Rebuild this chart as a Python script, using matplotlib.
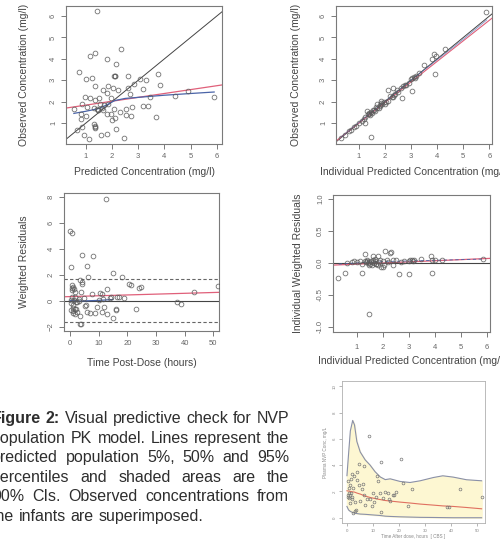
import matplotlib
matplotlib.use("Agg")
import matplotlib.pyplot as plt
import numpy as np

plt.rcParams['font.family'] = ['Liberation Sans', 'DejaVu Sans']

# ---------------- data ----------------
# Panel 1: population predicted vs observed
pred1 = [1.41, 1.36, 1.15, 2.33, 1.79, 0.75, 2.14, 1.01, 1.22, 2.08, 2.12, 2.10, 2.60, 3.06, 3.29, 3.76,
         2.85, 1.66, 1.85, 1.36, 2.04, 2.22, 2.60, 3.19, 3.83, 0.95, 1.16, 1.79, 1.97, 2.70, 3.44, 4.41,
         4.91, 5.89, 0.54, 0.87, 1.04, 1.34, 1.54, 1.30, 1.41, 1.47, 1.60, 1.85, 2.07, 2.54, 2.75, 3.19,
         3.39, 3.69, 2.29, 2.52, 2.74, 0.81, 0.82, 1.01, 1.82, 1.95, 2.01, 2.10, 1.32, 1.35, 1.36, 1.35,
         0.66, 0.87, 2.14, 0.94, 1.12, 1.59, 1.79, 2.47, 1.64, 1.51, 1.68, 1.45]
obs1 = [6.23, 4.25, 4.12, 4.45, 3.97, 3.39, 3.75, 3.06, 3.09, 3.19, 3.19, 3.19, 3.19, 3.06, 3.00, 3.31,
        2.81, 2.53, 2.75, 2.72, 2.66, 2.56, 2.63, 2.59, 2.77, 2.20, 2.19, 2.41, 2.19, 2.36, 2.23, 2.27,
        2.50, 2.23, 1.64, 1.88, 1.75, 2.06, 1.91, 1.72, 1.66, 1.59, 1.72, 1.91, 1.67, 1.67, 1.75, 1.81,
        1.81, 1.28, 1.50, 1.36, 1.31, 1.44, 1.19, 1.31, 1.41, 1.44, 1.16, 1.25, 0.94, 0.84, 0.81, 0.75,
        0.66, 0.81, 0.70, 0.44, 0.27, 0.44, 0.50, 0.31, 1.59, 2.19, 1.85, 1.62]
reg1_x = [0.24, 6.2]
reg1_y = [1.70, 2.78]
low1_x = [0.54, 1.0, 1.5, 1.8, 2.1, 2.5, 3.0, 4.0, 5.0, 5.9]
low1_y = [1.45, 1.55, 1.68, 1.85, 2.05, 2.15, 2.20, 2.30, 2.38, 2.45]

# Panel 2: individual predicted vs observed
ipred2 = [0.45, 0.60, 0.70, 0.80, 0.90, 1.00, 1.10, 1.20, 1.25, 1.30, 1.35, 1.40, 1.42, 1.45, 1.50, 1.55,
          1.60, 1.65, 1.70, 1.75, 1.80, 1.82, 1.85, 1.90, 1.95, 2.00, 2.05, 2.10, 2.20, 2.30, 2.35, 2.40,
          2.50, 2.60, 2.70, 2.80, 2.90, 3.00, 3.05, 3.10, 3.15, 3.20, 3.30, 3.50, 3.80, 3.86, 3.97, 4.30,
          5.86, 3.90, 3.04, 2.64, 2.12, 2.32, 1.48, 1.22, 1.85, 1.70, 2.45, 0.30, 1.38, 1.58, 2.25, 2.75]
obs2 = [0.45, 0.62, 0.68, 0.82, 0.88, 1.02, 1.10, 1.18, 1.30, 1.55, 1.40, 1.45, 1.38, 1.50, 1.47, 1.60,
        1.58, 1.75, 1.72, 1.68, 1.85, 1.78, 1.95, 1.88, 2.00, 1.90, 1.98, 2.05, 2.25, 2.20, 2.30, 2.38,
        2.45, 2.62, 2.72, 2.78, 2.85, 3.05, 3.10, 3.15, 3.12, 3.22, 3.35, 3.72, 4.00, 4.24, 4.12, 4.45,
        6.19, 3.29, 2.50, 2.18, 2.53, 2.65, 0.35, 1.00, 2.05, 1.90, 2.55, 0.30, 1.42, 1.62, 2.22, 2.78]
reg2_x = [0.12, 6.1]
reg2_y = [0.16, 5.90]
low2_x = [0.3, 1.0, 2.0, 3.0, 4.0, 5.0, 5.9]
low2_y = [0.33, 1.03, 2.02, 3.01, 3.96, 4.92, 5.82]

# Panel 3: time vs weighted residuals
time3 = [12.65, 0.0, 0.84, 4.2, 8.07, 0.36, 5.78, 15.06, 6.27, 18.3, 20.5, 21.2, 24.1, 24.8, 43.4, 51.6,
         37.3, 38.7, 23.1, 16.1, 15.1, 3.4, 3.86, 0.6, 1.2, 0.84, 1.8, 3.6, 4.1, 4.3, 4.0, 0.6, 1.8, 3.0,
         4.8, 7.8, 10.6, 11.1, 13.0, 14.2, 16.3, 17.1, 18.7, 0.24, 1.2, 2.2, 0.96, 1.9, 1.2, 1.7, 2.4,
         3.4, 5.2, 5.8, 7.0, 8.7, 9.3, 11.1, 12.0, 13.0, 15.9, 11.4, 10.0, 5.7, 0.5, 1.5, 2.6, 0.3, 1.0,
         2.0, 3.2, 0.7, 1.4, 14.0]
wres3 = [7.82, 5.41, 5.26, 3.54, 3.46, 2.64, 2.69, 2.13, 1.82, 1.82, 1.31, 1.23, 0.97, 1.05, 0.69, 1.15,
         -0.05, -0.23, -0.64, -0.64, -1.31, -1.77, -1.77, 1.23, 1.10, 0.85, 0.72, 1.62, 1.46, 1.28, 0.72,
         0.33, 0.28, 0.13, 0.21, 0.54, 0.59, 0.54, 0.90, 0.28, 0.28, 0.33, 0.21, -0.13, -0.30, -0.05,
         -0.56, -0.64, -0.90, -1.00, -0.82, -1.15, -0.38, -0.82, -0.95, -0.95, -0.44, -0.82, -0.44, -1.00,
         -0.69, 0.13, 0.08, -0.31, 0.05, 0.10, -0.10, -0.70, -0.75, -0.60, 0.0, 1.0, 0.95, 0.25]
ref3_upper = 1.67
ref3_lower = -1.62
reg3_x = [-2.1, 52.0]
reg3_y = [0.33, 0.67]
low3_x = [0.0, 3.0, 6.0, 10.0, 15.0]
low3_y = [0.05, 0.0, 0.02, 0.05, 0.12]

# Panel 4: individual predicted vs individual weighted residuals
ipred4 = [0.29, 0.54, 1.19, 1.47, 1.31, 1.60, 1.83, 2.08, 2.27, 2.31, 2.60, 3.01, 3.88, 3.46, 3.85, 4.29,
          5.86, 1.92, 1.99, 1.80, 1.47, 0.60, 0.80, 0.90, 1.00, 1.10, 1.20, 1.30, 1.35, 1.40, 1.45, 1.50,
          1.55, 1.60, 1.65, 1.70, 1.75, 1.85, 1.90, 2.00, 2.15, 2.20, 2.40, 2.50, 2.70, 2.80, 3.00, 3.05,
          3.10, 3.15, 3.20, 3.90, 4.00, 1.38, 1.42, 1.58, 1.62, 1.68, 1.72, 2.05, 2.40]
iwres4 = [-0.23, -0.16, -0.16, -0.80, 0.14, 0.11, 0.10, 0.19, 0.15, 0.17, -0.17, -0.18, -0.16, 0.06, 0.10,
          0.04, 0.06, -0.06, -0.07, -0.04, -0.04, 0.00, 0.02, 0.03, 0.02, 0.03, -0.02, 0.03, 0.01, 0.04,
          0.02, -0.01, 0.03, 0.02, 0.00, 0.03, -0.02, 0.02, 0.04, 0.03, 0.05, 0.01, 0.04, 0.05, 0.02, 0.03,
          0.03, 0.04, 0.05, 0.03, 0.04, 0.04, 0.04, 0.03, 0.00, -0.03, 0.05, 0.06, -0.02, -0.04, -0.03]
reg4_x = [0.08, 6.12]
reg4_y = [-0.035, 0.07]
low4_x = [0.3, 1.0, 2.0, 3.0, 4.0, 5.0, 5.9]
low4_y = [-0.02, 0.0, 0.02, 0.03, 0.04, 0.05, 0.06]

# VPC panel
vpc_time = [0.0, 0.6, 1.3, 2.2, 2.9, 3.8, 5.1, 7.0, 8.9, 10.8, 12.8, 14.7, 16.6, 20.4, 24.2, 28.1, 33.2,
            36.8, 40.8, 45.9, 51.7]
vpc_upper = [3.2, 4.8, 6.6, 7.4, 7.06, 5.8, 5.0, 4.4, 4.0, 3.5, 3.1, 2.9, 2.96, 2.76, 2.68, 2.81, 3.06,
             3.19, 3.09, 2.89, 2.81]
vpc_lower = [0.86, 0.60, 0.48, 0.40, 0.35, 0.32, 0.28, 0.26, 0.23, 0.20, 0.17, 0.12, 0.10, 0.07, 0.05,
             0.03, 0.02, 0.01, 0.0, 0.0, 0.0]
vpc_median = [2.05, 2.03, 2.0, 1.97, 1.95, 1.88, 1.80, 1.65, 1.54, 1.46, 1.38, 1.31, 1.27, 1.19, 1.12,
              1.04, 0.96, 0.90, 0.86, 0.78, 0.68]
obs_time = [8.3, 13.0, 20.8, 4.8, 6.6, 1.9, 2.6, 3.8, 43.4, 51.7, 24.9, 21.7, 11.5, 12.1, 14.7, 15.9, 17.6,
            38.3, 39.3, 23.6, 13.1, 2.3, 2.9, 3.6, 0.6, 1.0, 1.5, 0.3, 0.8, 1.9, 0.5, 0.6, 1.3, 2.2, 4.5,
            5.7, 6.4, 7.6, 8.9, 10.2, 9.5, 11.0, 12.5, 14.0, 16.5, 18.0, 5.0, 3.0, 1.2, 0.4, 2.0, 7.0, 10.0,
            16.0, 19.0, 1.6, 4.0, 6.0]
obs_conc = [6.23, 4.23, 4.46, 4.08, 3.97, 3.30, 3.14, 3.50, 2.20, 1.57, 2.18, 2.63, 3.19, 2.76, 1.95, 1.87,
            1.75, 0.81, 0.78, 0.86, 0.43, 0.35, 0.48, 0.61, 1.90, 1.75, 1.85, 1.60, 1.50, 1.40, 2.76, 2.30,
            2.50, 2.25, 2.50, 2.20, 1.70, 1.45, 1.40, 1.20, 0.90, 1.60, 1.90, 1.50, 1.30, 1.75, 1.30, 1.20,
            1.10, 1.70, 1.60, 0.95, 1.85, 1.40, 1.95, 2.95, 2.90, 2.60]

# ---------------- figure ----------------
W, H = 500, 540
fig = plt.figure(figsize=(W / 100, H / 100), dpi=100)

def ax_px(l, t, r, b):
    return fig.add_axes([l / W, 1 - b / H, (r - l) / W, (b - t) / H])

AX_COL = '#7a7a7a'
TXT_COL = '#444444'
PT_COL = '#5a5a5a'
RED = '#e0607a'
BLUE = '#4a64a8'

def style(ax, xlim, ylim, xticks, yticks, xlabel, ylabel, fs=7.5, tfs=5.5, labelpad_x=4, labelpad_y=6):
    ax.set_xlim(*xlim)
    ax.set_ylim(*ylim)
    ax.set_xticks(xticks)
    ax.set_yticks(yticks)
    for s in ax.spines.values():
        s.set_color(AX_COL)
        s.set_linewidth(0.8)
    ax.tick_params(colors=AX_COL, labelcolor='#666666', labelsize=tfs, length=3.5, width=0.7, pad=3)
    for lab in ax.get_yticklabels():
        lab.set_rotation(90)
        lab.set_va('center')
    ax.set_xlabel(xlabel, fontsize=fs, color=TXT_COL, labelpad=labelpad_x)
    ax.set_ylabel(ylabel, fontsize=fs, color=TXT_COL, labelpad=labelpad_y)

def pts(ax, x, y, ms=3.4):
    ax.plot(x, y, 'o', ms=ms, mfc='none', mec=PT_COL, mew=0.6, alpha=0.85, zorder=3)

# Panel 1
a1 = ax_px(66, 6, 222, 144)
pts(a1, pred1, obs1)
a1.plot([0, 7], [0, 7], color='#444444', lw=0.7)
a1.plot(reg1_x, reg1_y, color=RED, lw=0.9)
a1.plot(low1_x, low1_y, color=BLUE, lw=0.9)
style(a1, (0.24, 6.2), (0.02, 6.47), [1, 2, 3, 4, 5, 6], [1, 2, 3, 4, 5, 6],
      'Predicted Concentration (mg/l)', 'Observed Concentration (mg/l)', labelpad_x=5, labelpad_y=15)

# Panel 2
a2 = ax_px(336, 6, 492, 144)
pts(a2, ipred2, obs2)
a2.plot([0, 7], [0, 7], color='#444444', lw=0.7)
a2.plot(reg2_x, reg2_y, color=RED, lw=0.8)
a2.plot(low2_x, low2_y, color=BLUE, lw=0.6, alpha=0.7)
style(a2, (0.12, 6.1), (0.02, 6.47), [1, 2, 3, 4, 5, 6], [1, 2, 3, 4, 5, 6],
      'Individual Predicted Concentration (mg/l)', 'Observed Concentration (mg/l)', labelpad_x=5, labelpad_y=14)

# Panel 3
a3 = ax_px(64, 193, 219, 331)
pts(a3, time3, wres3)
a3.axhline(0, color='#444444', lw=0.8)
a3.axhline(ref3_upper, color='#666666', lw=0.8, ls=(0, (3, 2)))
a3.axhline(ref3_lower, color='#666666', lw=0.8, ls=(0, (3, 2)))
a3.plot(reg3_x, reg3_y, color=RED, lw=0.9)
a3.plot(low3_x, low3_y, color=BLUE, lw=0.9)
style(a3, (-2.1, 52), (-2.3, 8.3), [0, 10, 20, 30, 40, 50], [-2, 0, 2, 4, 6, 8],
      'Time Post-Dose (hours)', 'Weighted Residuals', labelpad_x=8, labelpad_y=14)

# Panel 4
a4 = ax_px(333, 195, 490, 332)
pts(a4, ipred4, iwres4)
a4.axhline(0, color='#444444', lw=0.8)
a4.plot(reg4_x, reg4_y, color=RED, lw=0.9)
a4.plot(low4_x, low4_y, color=BLUE, lw=0.6, ls=(0, (4, 3)))
style(a4, (0.08, 6.12), (-1.08, 1.06), [1, 2, 3, 4, 5, 6], [-1.0, -0.5, 0.0, 0.5, 1.0],
      'Individual Predicted Concentration (mg/l)', 'Individual Weighted Residuals', labelpad_x=4, labelpad_y=10)
a4.set_yticklabels(['-1.0', '-0.5', '0.0', '0.5', '1.0'], rotation=90, va='center')
a4.tick_params(axis='x', pad=5)

# VPC panel
a5 = ax_px(342, 381, 485, 523)
a5.fill_between(vpc_time, vpc_lower, vpc_upper, color='#fdf7d2', zorder=1)
a5.plot(vpc_time, vpc_upper, color='#8a90a8', lw=0.8, zorder=2)
a5.plot(vpc_time, vpc_lower, color='#8a90a8', lw=0.8, zorder=2)
a5.plot(vpc_time, vpc_median, color='#e07060', lw=0.8, zorder=2)
a5.plot(obs_time, obs_conc, 'o', ms=2.0, mfc='none', mec='#777777', mew=0.5, zorder=3)
a5.set_xlim(-1.9, 53)
a5.set_ylim(-0.4, 10.4)
a5.set_xticks([0, 10, 20, 30, 40, 50])
a5.set_yticks([0, 2, 4, 6, 8, 10])
for s in a5.spines.values():
    s.set_color('#b0b0b0')
    s.set_linewidth(0.6)
a5.tick_params(colors='#999999', labelcolor='#888888', labelsize=3.2, length=2, width=0.5, pad=2)
for lab in a5.get_yticklabels():
    lab.set_rotation(90)
    lab.set_va('center')
a5.set_xlabel('Time After dose, hours  [ CBS ]', fontsize=3.3, color='#888888', labelpad=1)
a5.set_ylabel('Plasma NVP Conc, mg/L', fontsize=3.3, color='#888888', labelpad=3)

# ---------------- caption (justified) ----------------
cap_lines = [
    [("Figure", True), ("2:", True), ("Visual", False), ("predictive", False), ("check", False),
     ("for", False), ("NVP", False)],
    [(w, False) for w in "population PK model. Lines represent the".split()],
    [(w, False) for w in "predicted population 5%, 50% and 95%".split()],
    [(w, False) for w in "percentiles and shaded areas are the".split()],
    [(w, False) for w in "90% CIs. Observed concentrations from".split()],
    [(w, False) for w in "the infants are superimposed.".split()],
]
cap_left, cap_right = -8.0, 289.0
cap_top, cap_step = 418.5, 19.6
cap_fs = 11.5
cap_col = '#2e2e2e'

fig.canvas.draw()
renderer = fig.canvas.get_renderer()
space_t = fig.text(0, 0, "a a", fontsize=cap_fs)
aa_t = fig.text(0, 0, "aa", fontsize=cap_fs)
space_w = space_t.get_window_extent(renderer).width - aa_t.get_window_extent(renderer).width
space_t.remove()
aa_t.remove()

for i, line in enumerate(cap_lines):
    y_px = cap_top + i * cap_step
    texts = []
    widths = []
    for w, bold in line:
        t = fig.text(0, 1 - y_px / H, w, fontsize=cap_fs, color=cap_col,
                     fontweight='bold' if bold else 'normal', va='center', ha='left')
        texts.append(t)
        widths.append(t.get_window_extent(renderer).width)
    if i < len(cap_lines) - 1:
        gap = (cap_right - cap_left - sum(widths)) / (len(widths) - 1)
        gap = max(gap, space_w)
    else:
        gap = space_w
    x = cap_left
    for t, wdt in zip(texts, widths):
        t.set_x(x / W)
        x += wdt + gap

fig.savefig('out.png', dpi=100)
